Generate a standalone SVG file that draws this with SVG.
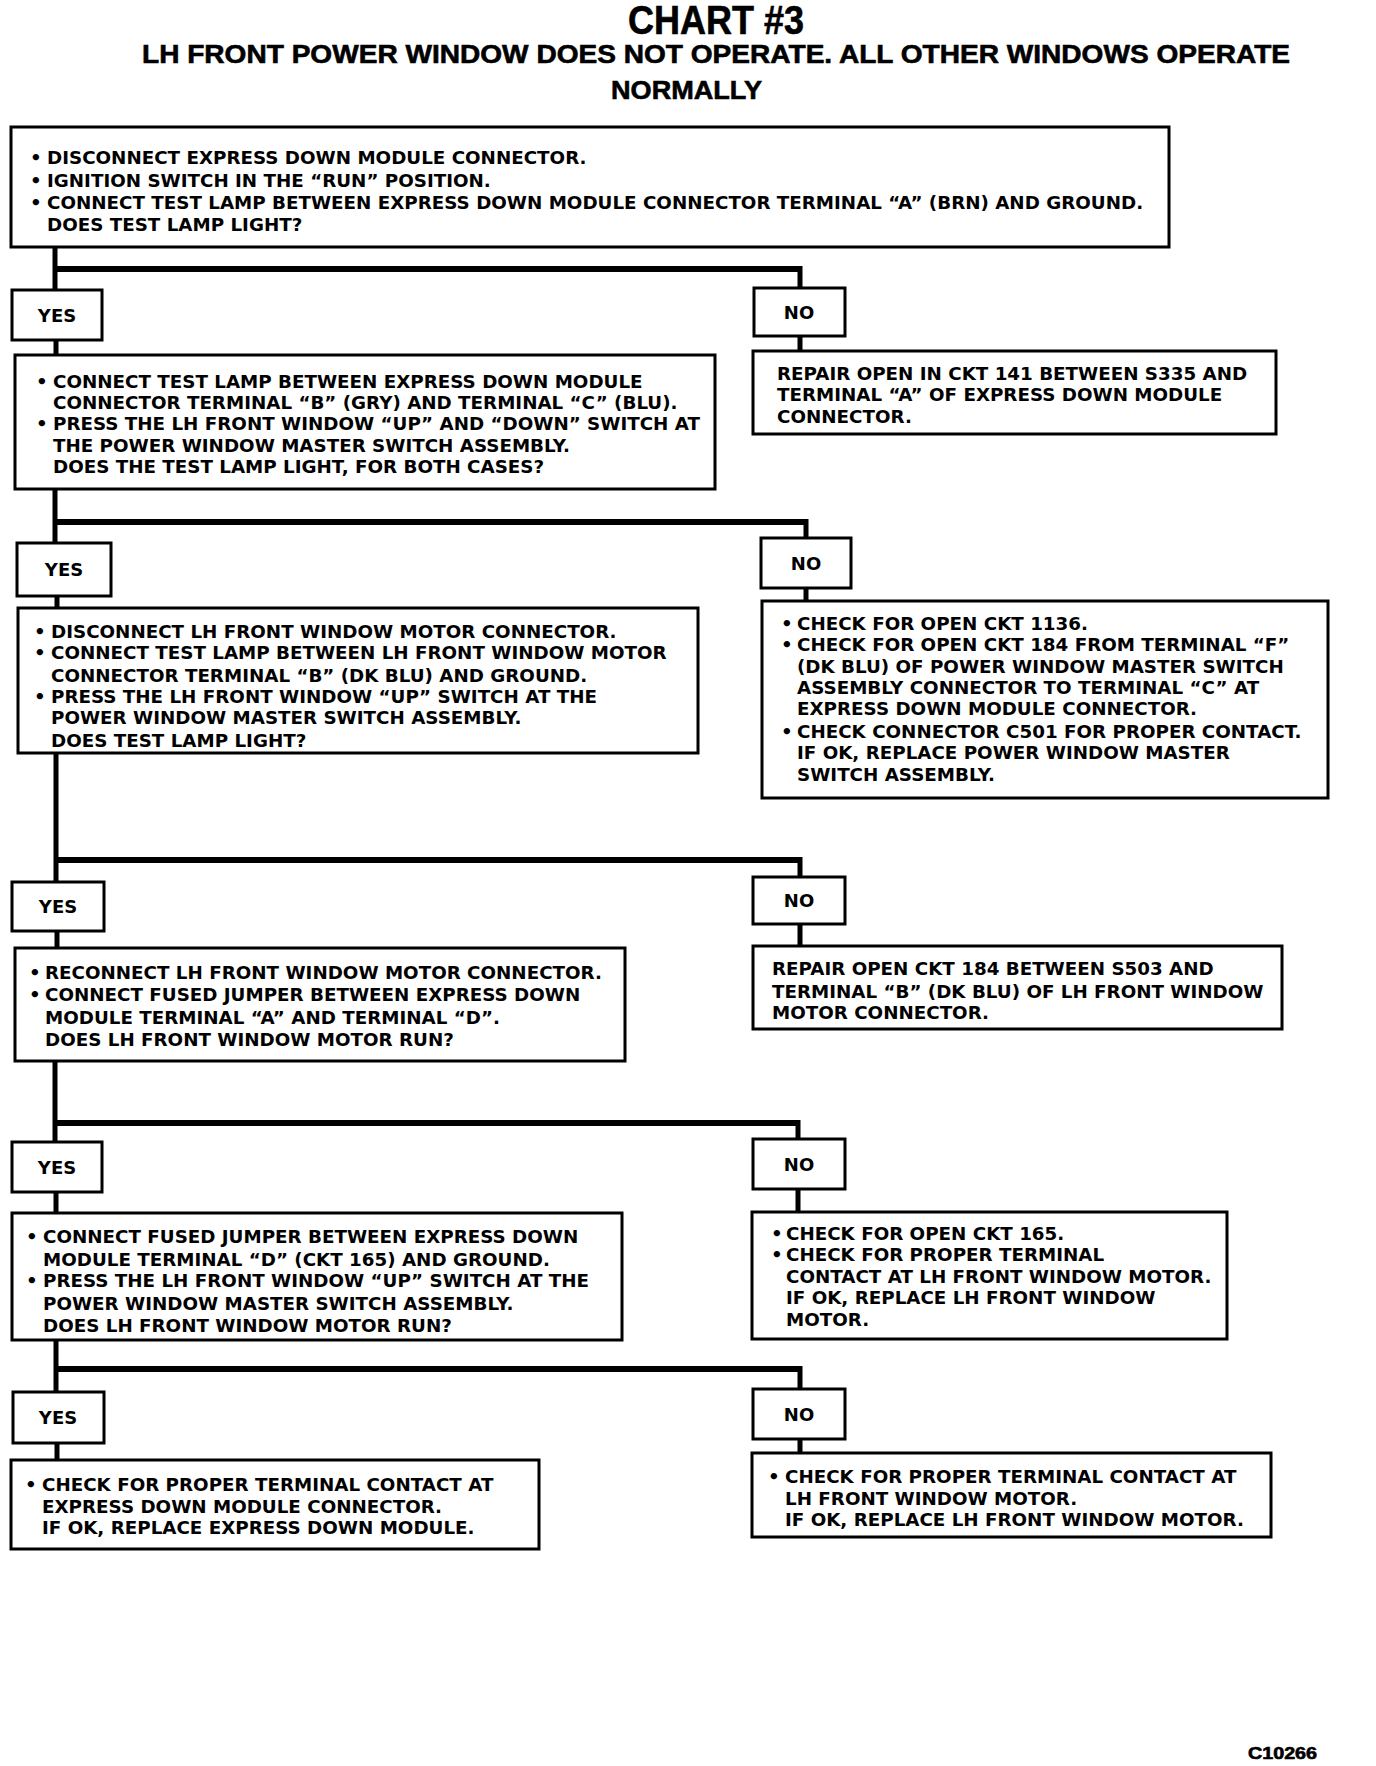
<svg xmlns="http://www.w3.org/2000/svg" width="1376" height="1766" viewBox="0 0 1376 1766">
<style>
.bg{fill:#fff}
.box{fill:#fff;stroke:#000;stroke-width:3}
.t{font-family:"DejaVu Sans","Liberation Sans",sans-serif;font-weight:bold;font-size:18.3px;fill:#000}
.lbl{font-family:"DejaVu Sans","Liberation Sans",sans-serif;font-weight:bold;font-size:18px;fill:#000;text-anchor:middle}
.h{font-family:"Liberation Sans",Arial,sans-serif;font-weight:bold;fill:#000;stroke:#000;stroke-width:0.6}
.bar{fill:none;stroke:#000;stroke-width:6}
.v{fill:none;stroke:#000;stroke-width:5}
</style>
<rect class="bg" x="0" y="0" width="1376" height="1766"/>
<g id="title">
<text class="h" x="716" y="34" font-size="40" text-anchor="middle" textLength="176" lengthAdjust="spacingAndGlyphs">CHART #3</text>
<text class="h" x="142" y="63" font-size="26" textLength="1148" lengthAdjust="spacingAndGlyphs">LH FRONT POWER WINDOW DOES NOT OPERATE. ALL OTHER WINDOWS OPERATE</text>
<text class="h" x="611" y="99" font-size="26" textLength="151" lengthAdjust="spacingAndGlyphs">NORMALLY</text>
</g>
<g id="connectors">
<path class="v" d="M55 247 V290"/>
<path class="bar" d="M55 269 H800"/>
<path class="v" d="M800 266 V288"/>
<path class="v" d="M56 340 V355"/>
<path class="v" d="M800 336 V351"/>
<path class="v" d="M55 489 V543"/>
<path class="bar" d="M55 522 H806"/>
<path class="v" d="M806 519 V538"/>
<path class="v" d="M57 596 V608"/>
<path class="v" d="M806 588 V601"/>
<path class="v" d="M56 753 V882"/>
<path class="bar" d="M56 860 H800"/>
<path class="v" d="M800 857 V877"/>
<path class="v" d="M57 931 V948"/>
<path class="v" d="M800 924 V946"/>
<path class="v" d="M55 1061 V1142"/>
<path class="bar" d="M55 1123 H798"/>
<path class="v" d="M798 1120 V1139"/>
<path class="v" d="M56 1192 V1213"/>
<path class="v" d="M798 1189 V1212"/>
<path class="v" d="M56 1340 V1392"/>
<path class="bar" d="M56 1369 H800"/>
<path class="v" d="M800 1366 V1389"/>
<path class="v" d="M57 1443 V1460"/>
<path class="v" d="M800 1439 V1453"/>
</g>
<g id="q1">
<rect class="box" x="11" y="127" width="1158" height="120"/>
<text class="t" x="30" y="164">•</text><text class="t" x="47" y="164">DISCONNECT EXPRESS DOWN MODULE CONNECTOR.</text>
<text class="t" x="30" y="187">•</text><text class="t" x="47" y="187">IGNITION SWITCH IN THE “RUN” POSITION.</text>
<text class="t" x="30" y="209">•</text><text class="t" x="47" y="209">CONNECT TEST LAMP BETWEEN EXPRESS DOWN MODULE CONNECTOR TERMINAL “A” (BRN) AND GROUND.</text>
<text class="t" x="47" y="231">DOES TEST LAMP LIGHT?</text>
</g>
<g id="yes1"><rect class="box" x="12" y="290" width="90" height="50"/><text class="lbl" x="57" y="322">YES</text></g>
<g id="no1"><rect class="box" x="754" y="288" width="91" height="48"/><text class="lbl" x="799" y="319">NO</text></g>
<g id="q2">
<rect class="box" x="15" y="355" width="700" height="134"/>
<text class="t" x="36" y="388">•</text><text class="t" x="53" y="388">CONNECT TEST LAMP BETWEEN EXPRESS DOWN MODULE</text>
<text class="t" x="53" y="409">CONNECTOR TERMINAL “B” (GRY) AND TERMINAL “C” (BLU).</text>
<text class="t" x="36" y="430">•</text><text class="t" x="53" y="430">PRESS THE LH FRONT WINDOW “UP” AND “DOWN” SWITCH AT</text>
<text class="t" x="53" y="452">THE POWER WINDOW MASTER SWITCH ASSEMBLY.</text>
<text class="t" x="53" y="473">DOES THE TEST LAMP LIGHT, FOR BOTH CASES?</text>
</g>
<g id="r1">
<rect class="box" x="753" y="351" width="523" height="83"/>
<text class="t" x="777" y="380">REPAIR OPEN IN CKT 141 BETWEEN S335 AND</text>
<text class="t" x="777" y="401">TERMINAL “A” OF EXPRESS DOWN MODULE</text>
<text class="t" x="777" y="423">CONNECTOR.</text>
</g>
<g id="yes2"><rect class="box" x="17" y="543" width="94" height="53"/><text class="lbl" x="64" y="576">YES</text></g>
<g id="no2"><rect class="box" x="761" y="538" width="90" height="50"/><text class="lbl" x="806" y="570">NO</text></g>
<g id="q3">
<rect class="box" x="18" y="608" width="680" height="145"/>
<text class="t" x="34" y="638">•</text><text class="t" x="51" y="638">DISCONNECT LH FRONT WINDOW MOTOR CONNECTOR.</text>
<text class="t" x="34" y="659">•</text><text class="t" x="51" y="659">CONNECT TEST LAMP BETWEEN LH FRONT WINDOW MOTOR</text>
<text class="t" x="51" y="682">CONNECTOR TERMINAL “B” (DK BLU) AND GROUND.</text>
<text class="t" x="34" y="703">•</text><text class="t" x="51" y="703">PRESS THE LH FRONT WINDOW “UP” SWITCH AT THE</text>
<text class="t" x="51" y="724">POWER WINDOW MASTER SWITCH ASSEMBLY.</text>
<text class="t" x="51" y="747">DOES TEST LAMP LIGHT?</text>
</g>
<g id="r2">
<rect class="box" x="762" y="601" width="566" height="197"/>
<text class="t" x="781" y="630">•</text><text class="t" x="797" y="630">CHECK FOR OPEN CKT 1136.</text>
<text class="t" x="781" y="651">•</text><text class="t" x="797" y="651">CHECK FOR OPEN CKT 184 FROM TERMINAL “F”</text>
<text class="t" x="797" y="673">(DK BLU) OF POWER WINDOW MASTER SWITCH</text>
<text class="t" x="797" y="694">ASSEMBLY CONNECTOR TO TERMINAL “C” AT</text>
<text class="t" x="797" y="715">EXPRESS DOWN MODULE CONNECTOR.</text>
<text class="t" x="781" y="738">•</text><text class="t" x="797" y="738">CHECK CONNECTOR C501 FOR PROPER CONTACT.</text>
<text class="t" x="797" y="759">IF OK, REPLACE POWER WINDOW MASTER</text>
<text class="t" x="797" y="781">SWITCH ASSEMBLY.</text>
</g>
<g id="yes3"><rect class="box" x="12" y="882" width="92" height="49"/><text class="lbl" x="58" y="913">YES</text></g>
<g id="no3"><rect class="box" x="753" y="877" width="92" height="47"/><text class="lbl" x="799" y="907">NO</text></g>
<g id="q4">
<rect class="box" x="15" y="948" width="610" height="113"/>
<text class="t" x="29" y="979">•</text><text class="t" x="45" y="979">RECONNECT LH FRONT WINDOW MOTOR CONNECTOR.</text>
<text class="t" x="29" y="1001">•</text><text class="t" x="45" y="1001">CONNECT FUSED JUMPER BETWEEN EXPRESS DOWN</text>
<text class="t" x="45" y="1024">MODULE TERMINAL “A” AND TERMINAL “D”.</text>
<text class="t" x="45" y="1046">DOES LH FRONT WINDOW MOTOR RUN?</text>
</g>
<g id="r3">
<rect class="box" x="753" y="946" width="529" height="83"/>
<text class="t" x="772" y="975">REPAIR OPEN CKT 184 BETWEEN S503 AND</text>
<text class="t" x="772" y="998">TERMINAL “B” (DK BLU) OF LH FRONT WINDOW</text>
<text class="t" x="772" y="1019">MOTOR CONNECTOR.</text>
</g>
<g id="yes4"><rect class="box" x="12" y="1142" width="90" height="50"/><text class="lbl" x="57" y="1174">YES</text></g>
<g id="no4"><rect class="box" x="753" y="1139" width="92" height="50"/><text class="lbl" x="799" y="1171">NO</text></g>
<g id="q5">
<rect class="box" x="12" y="1213" width="610" height="127"/>
<text class="t" x="26" y="1243">•</text><text class="t" x="43" y="1243">CONNECT FUSED JUMPER BETWEEN EXPRESS DOWN</text>
<text class="t" x="43" y="1266">MODULE TERMINAL “D” (CKT 165) AND GROUND.</text>
<text class="t" x="26" y="1287">•</text><text class="t" x="43" y="1287">PRESS THE LH FRONT WINDOW “UP” SWITCH AT THE</text>
<text class="t" x="43" y="1310">POWER WINDOW MASTER SWITCH ASSEMBLY.</text>
<text class="t" x="43" y="1332">DOES LH FRONT WINDOW MOTOR RUN?</text>
</g>
<g id="r4">
<rect class="box" x="752" y="1212" width="475" height="127"/>
<text class="t" x="771" y="1240">•</text><text class="t" x="786" y="1240">CHECK FOR OPEN CKT 165.</text>
<text class="t" x="771" y="1261">•</text><text class="t" x="786" y="1261">CHECK FOR PROPER TERMINAL</text>
<text class="t" x="786" y="1283">CONTACT AT LH FRONT WINDOW MOTOR.</text>
<text class="t" x="786" y="1304">IF OK, REPLACE LH FRONT WINDOW</text>
<text class="t" x="786" y="1326">MOTOR.</text>
</g>
<g id="yes5"><rect class="box" x="13" y="1392" width="91" height="51"/><text class="lbl" x="58" y="1424">YES</text></g>
<g id="no5"><rect class="box" x="753" y="1389" width="92" height="50"/><text class="lbl" x="799" y="1421">NO</text></g>
<g id="r5">
<rect class="box" x="11" y="1460" width="528" height="89"/>
<text class="t" x="25" y="1491">•</text><text class="t" x="42" y="1491">CHECK FOR PROPER TERMINAL CONTACT AT</text>
<text class="t" x="42" y="1513">EXPRESS DOWN MODULE CONNECTOR.</text>
<text class="t" x="42" y="1534">IF OK, REPLACE EXPRESS DOWN MODULE.</text>
</g>
<g id="r6">
<rect class="box" x="752" y="1453" width="519" height="84"/>
<text class="t" x="768" y="1483">•</text><text class="t" x="785" y="1483">CHECK FOR PROPER TERMINAL CONTACT AT</text>
<text class="t" x="785" y="1505">LH FRONT WINDOW MOTOR.</text>
<text class="t" x="785" y="1526">IF OK, REPLACE LH FRONT WINDOW MOTOR.</text>
</g>
<text class="h" x="1248" y="1759" font-size="16" textLength="69" lengthAdjust="spacingAndGlyphs">C10266</text>
</svg>
